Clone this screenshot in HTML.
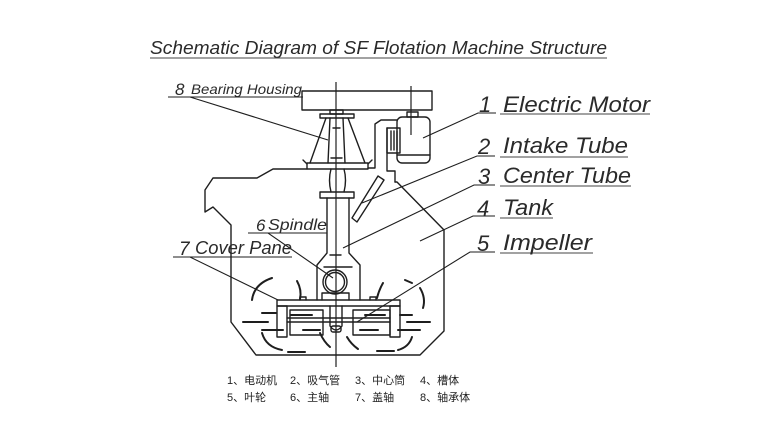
<!DOCTYPE html>
<html>
<head>
<meta charset="utf-8">
<style>
  html,body{margin:0;padding:0;background:#fff;}
  svg{display:block;}
  .ln{fill:none;stroke:#1e1e1e;stroke-width:1.4;stroke-linejoin:round;stroke-linecap:round;}
  .th{fill:none;stroke:#1e1e1e;stroke-width:2;stroke-linecap:round;}
  .lbl{font-family:"Liberation Sans",sans-serif;font-style:italic;fill:#2a2a2a;}
  .cn{font-family:"Liberation Sans","Noto Sans CJK SC",sans-serif;font-size:11px;fill:#222;}
</style>
</head>
<body>
<svg width="778" height="433" viewBox="0 0 778 433" xmlns="http://www.w3.org/2000/svg">
  <rect x="0" y="0" width="778" height="433" fill="#fff"/>

  <!-- Title -->
  <text class="lbl" x="150" y="54" font-size="18" textLength="457" lengthAdjust="spacingAndGlyphs">Schematic Diagram of SF Flotation Machine Structure</text>
  <line x1="150" y1="58" x2="607" y2="58" stroke="#444" stroke-width="1"/>

  <!-- center axis -->
  <line x1="336" y1="82" x2="336" y2="367" stroke="#1e1e1e" stroke-width="1.2"/>
  <!-- motor axis -->
  <line x1="411" y1="86" x2="411" y2="135" stroke="#1e1e1e" stroke-width="1.2"/>

  <!-- top plate -->
  <rect class="ln" x="302" y="91" width="130" height="19"/>

  <!-- bearing housing -->
  <rect class="ln" x="330" y="110" width="13" height="4"/>
  <rect class="ln" x="320" y="114" width="34" height="4"/>
  <path class="ln" d="M326,118 L310,163 M348,118 L365,163"/>
  <path class="ln" d="M330,118 L328,163 M343,118 L345,163"/>
  <path class="ln" d="M333,128 H340 M331,158 H342"/>
  <rect class="ln" x="307" y="163" width="61" height="6"/>
  <path class="ln" d="M303,160 L307,164 M372,160 L368,164"/>

  <!-- neck + flange + center tube -->
  <path class="ln" d="M331,169 Q328,180 331,192 M344,169 Q347,180 344,192"/>
  <rect class="ln" x="320" y="192" width="34" height="6"/>
  <path class="ln" d="M327,198 V253 L317,265 V300 M349,198 V253 L360,265 V300"/>
  <path class="ln" d="M330,255 H341 M324,267 H352"/>
  <!-- spindle circle -->
  <circle class="ln" cx="335" cy="282" r="12"/>
  <circle class="ln" cx="335" cy="282" r="9.5"/>
  <path class="ln" d="M322,293 H349 V300 M322,293 V300"/>

  <!-- intake tube -->
  <path class="ln" d="M378,176 L384,180 L357,222 L352,218 Z"/>

  <!-- motor bracket -->
  <path class="ln" d="M368,168 H375 V124 L381,120 H397"/>
  <path class="ln" d="M387,128 V171 H395 V182"/>
  <!-- coupling -->
  <rect class="ln" x="387" y="128" width="13" height="25"/>
  <path class="ln" d="M391,131 V150 M394,131 V150 M397,131 V150"/>
  <!-- motor -->
  <rect class="ln" x="397" y="117" width="33" height="46" rx="5"/>
  <path class="ln" d="M397,155 H430"/>
  <rect class="ln" x="407" y="112" width="11" height="5"/>

  <!-- tank outline -->
  <path class="ln" d="M307,169 H273 L257,178 H213 L205,190 V212 L213,207 L231,225 V322 L256,355 H420 L444,331 V230 L397,182 L395,182"/>

  <!-- cover plate & impeller -->
  <rect class="ln" x="277" y="300" width="123" height="6"/>
  <path class="ln" d="M300,300 V297 H306 V300 M370,300 V297 H376 V300"/>
  <rect class="ln" x="277" y="306" width="10" height="31"/>
  <rect class="ln" x="390" y="306" width="10" height="31"/>
  <rect class="ln" x="290" y="310" width="33" height="25"/>
  <rect class="ln" x="353" y="310" width="37" height="25"/>
  <path class="ln" d="M330,306 V326 Q336,334 342,326 V306"/>
  <rect class="ln" x="331" y="326" width="10" height="6" rx="2"/>
  <!-- through lines -->
  <path class="ln" d="M287,318 H390 M287,322 H390"/>

  <!-- flow marks -->
  <path class="th" d="M243,322 H268 M262,313 H276 M262,330 H283 M291,315 H312 M303,330 H320"/>
  <path class="th" d="M365,315 H385 M407,322 H430 M400,315 H412 M398,330 H420 M360,330 H378"/>
  <path class="th" d="M252,300 Q254,284 272,278"/>
  <path class="th" d="M297,281 Q302,290 300,299"/>
  <path class="th" d="M262,333 Q266,347 282,350"/>
  <path class="th" d="M288,352 H305"/>
  <path class="th" d="M320,333 Q324,342 330,347"/>
  <path class="th" d="M347,337 Q351,344 358,349"/>
  <path class="th" d="M377,351 H394"/>
  <path class="th" d="M412,337 Q409,347 398,350"/>
  <path class="th" d="M383,283 Q379,290 377,298"/>
  <path class="th" d="M405,280 L412,283"/>
  <path class="th" d="M420,288 Q426,298 423,308"/>

  <!-- leader lines -->
  <g stroke="#1e1e1e" stroke-width="1.1" fill="none">
    <path d="M328,140 L190,97 M168,97 H303"/>
    <path d="M333,278 L268,233 H248 M268,233 H327"/>
    <path d="M278,300 L190,257 H173 M190,257 H292"/>
    <path d="M423,138 L478,113 H496"/>
    <path d="M362,203 L477,156 H495"/>
    <path d="M343,248 L474,185 H495"/>
    <path d="M420,241 L473,216 H495"/>
    <path d="M357,322 L470,252 H495"/>
  </g>
  <g stroke="#444" stroke-width="1">
    <line x1="500" y1="114" x2="650" y2="114"/>
    <line x1="500" y1="157" x2="628" y2="157"/>
    <line x1="500" y1="186" x2="631" y2="186"/>
    <line x1="500" y1="218" x2="553" y2="218"/>
    <line x1="500" y1="253" x2="593" y2="253"/>
  </g>

  <!-- left labels -->
  <text class="lbl" x="175" y="95" font-size="17">8</text>
  <text class="lbl" x="191" y="94" font-size="14" textLength="111" lengthAdjust="spacingAndGlyphs">Bearing Housing</text>
  <text class="lbl" x="256" y="231" font-size="17">6</text>
  <text class="lbl" x="268" y="230" font-size="16" textLength="59" lengthAdjust="spacingAndGlyphs">Spindle</text>
  <text class="lbl" x="179" y="255" font-size="19">7</text>
  <text class="lbl" x="195" y="254" font-size="18" textLength="97" lengthAdjust="spacingAndGlyphs">Cover Pane</text>

  <!-- right labels -->
  <text class="lbl" x="479" y="112" font-size="22">1</text>
  <text class="lbl" x="503" y="112" font-size="22" textLength="147" lengthAdjust="spacingAndGlyphs">Electric Motor</text>
  <text class="lbl" x="478" y="154" font-size="22">2</text>
  <text class="lbl" x="503" y="153" font-size="22" textLength="125" lengthAdjust="spacingAndGlyphs">Intake Tube</text>
  <text class="lbl" x="478" y="184" font-size="22">3</text>
  <text class="lbl" x="503" y="183" font-size="22" textLength="128" lengthAdjust="spacingAndGlyphs">Center Tube</text>
  <text class="lbl" x="477" y="216" font-size="22">4</text>
  <text class="lbl" x="503" y="215" font-size="22" textLength="50" lengthAdjust="spacingAndGlyphs">Tank</text>
  <text class="lbl" x="477" y="251" font-size="22">5</text>
  <text class="lbl" x="503" y="250" font-size="22" textLength="89" lengthAdjust="spacingAndGlyphs">Impeller</text>

  <!-- legend -->
  <text class="cn" x="227" y="384">1、电动机</text>
  <text class="cn" x="290" y="384">2、吸气管</text>
  <text class="cn" x="355" y="384">3、中心筒</text>
  <text class="cn" x="420" y="384">4、槽体</text>
  <text class="cn" x="227" y="401">5、叶轮</text>
  <text class="cn" x="290" y="401">6、主轴</text>
  <text class="cn" x="355" y="401">7、盖轴</text>
  <text class="cn" x="420" y="401">8、轴承体</text>
</svg>
</body>
</html>
